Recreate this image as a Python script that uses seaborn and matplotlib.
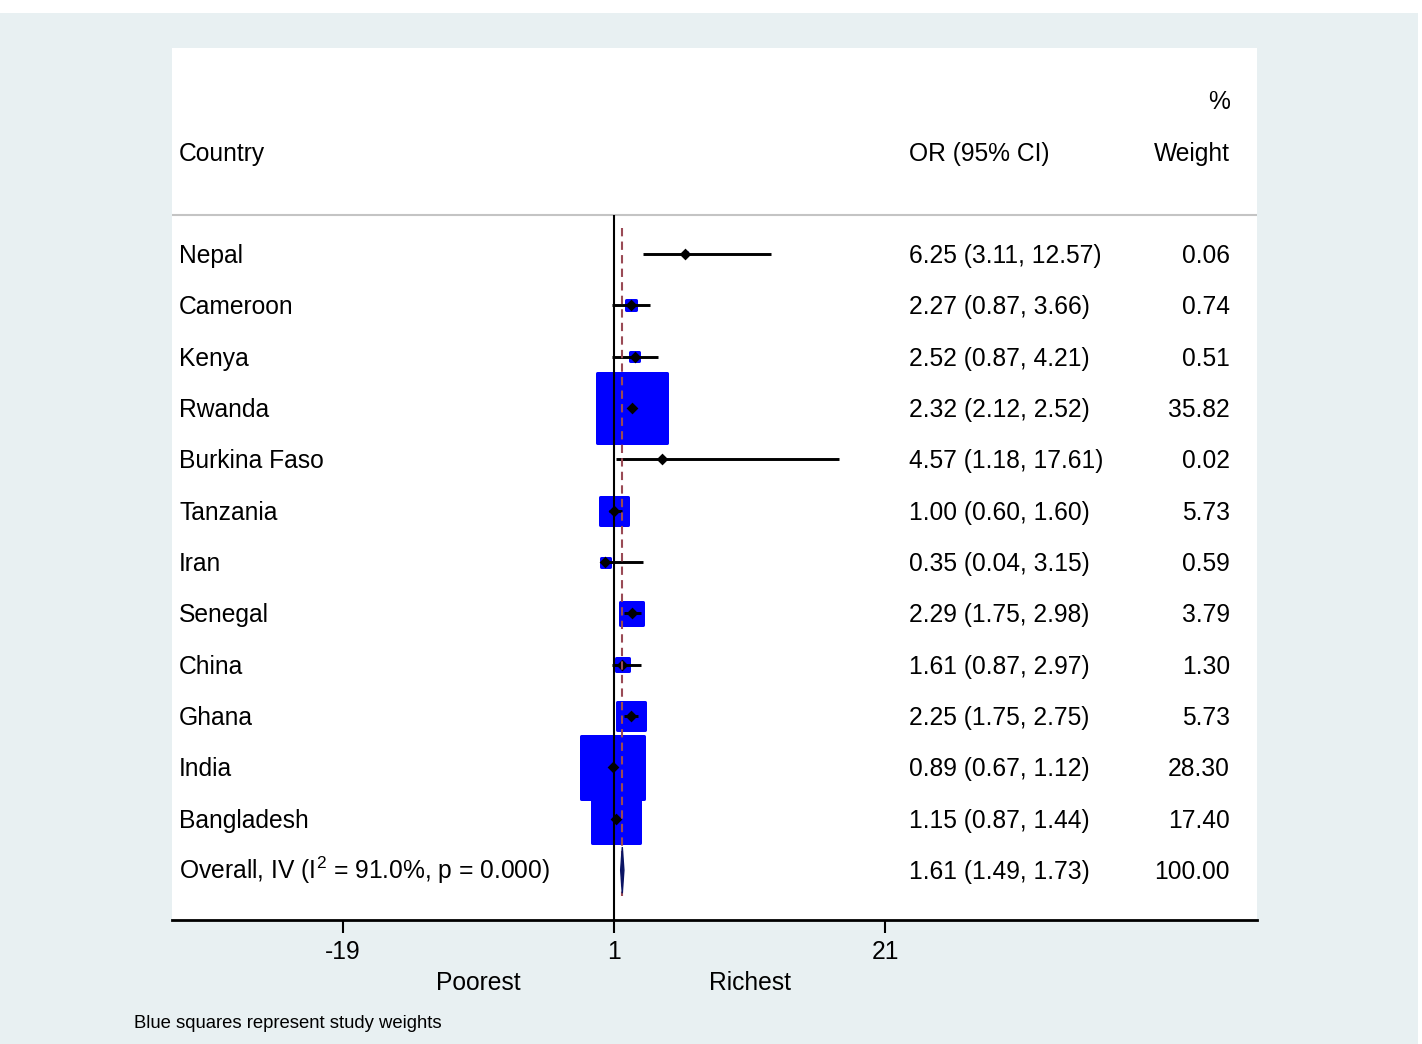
import numpy as np
import pandas as pd
import matplotlib
matplotlib.use('Agg')
import matplotlib.pyplot as plt
import seaborn as sns
from matplotlib.patches import Rectangle

sns.set_style('white')
plt.rcParams['font.family'] = ['Liberation Sans', 'DejaVu Sans']
plt.rcParams['mathtext.fontset'] = 'custom'
plt.rcParams['mathtext.rm'] = 'Liberation Sans'
plt.rcParams['mathtext.it'] = 'Liberation Sans:italic'
plt.rcParams['text.color'] = 'black'
plt.rcParams['xtick.color'] = 'black'
plt.rcParams['axes.labelcolor'] = 'black'

# study data
countries = ['Nepal', 'Cameroon', 'Kenya', 'Rwanda', 'Burkina Faso', 'Tanzania',
             'Iran', 'Senegal', 'China', 'Ghana', 'India', 'Bangladesh']
or_vals = [6.25, 2.27, 2.52, 2.32, 4.57, 1.00, 0.35, 2.29, 1.61, 2.25, 0.89, 1.15]
ci_low = [3.11, 0.87, 0.87, 2.12, 1.18, 0.60, 0.04, 1.75, 0.87, 1.75, 0.67, 0.87]
ci_high = [12.57, 3.66, 4.21, 2.52, 17.61, 1.60, 3.15, 2.98, 2.97, 2.75, 1.12, 1.44]
weights = [0.06, 0.74, 0.51, 35.82, 0.02, 5.73, 0.59, 3.79, 1.30, 5.73, 28.30, 17.40]

overall_label = 'Overall, IV (I$^{\\mathregular{2}}$ = 91.0%, p = 0.000)'
overall_or, overall_low, overall_high, overall_weight = 1.61, 1.49, 1.73, 100.00

tick_vals = [-19, 1, 21]
side_labels = ['Poorest', 'Richest']

df = pd.DataFrame({'country': countries, 'or_': or_vals, 'lo': ci_low,
                   'hi': ci_high, 'weight': weights})
df['row'] = np.arange(len(df))
overall_row = len(df)

fontsize = 17.7
blue = '#0000ff'

fig = plt.figure(figsize=(14.22, 10.44), dpi=100, facecolor='white')
fig.add_artist(Rectangle((0, 0), 1418 / 1422, 1 - 13 / 1044, transform=fig.transFigure,
                         facecolor='#e8f0f2', edgecolor='none', zorder=-10))
ax = fig.add_axes([172 / 1422, 1 - 920 / 1044, 1085 / 1422, 872 / 1044])
ax.set_facecolor('white')

# boxes: area proportional to weight
sns.scatterplot(data=df, x='or_', y='row', size='weight', sizes=(0, 70.97 * 35.82),
                size_norm=(0, 35.82), marker='s', color=blue, edgecolor=blue,
                linewidth=2.16, legend=False, ax=ax, zorder=2)
ax.hlines(df['row'], df['lo'], df['hi'], color='black', lw=2.1, zorder=3)
sns.scatterplot(data=df, x='or_', y='row', marker='D', color='black', s=36,
                linewidth=0, legend=False, ax=ax, zorder=4)

header_y = -0.76
ax.axhline(header_y, color='#c4c4c4', lw=1.5, zorder=1)
ax.vlines(1, header_y, 12.97, color='black', lw=1.5, zorder=5)
ax.vlines(overall_or, -0.5, 12.5, color='#9a4a55', lw=1.5,
          linestyles=(0, (4, 2.5)), zorder=5)
ax.fill([overall_low, overall_or, overall_high, overall_or],
        [overall_row, overall_row - 0.45, overall_row, overall_row + 0.45],
        color='#0a1464', zorder=6)

ax.set_xlim(-31.62, 48.45)
ax.set_ylim(12.97, -4.01)

# text columns
x_name, x_or, x_w = -31.1, 22.77, 46.46
off = 0.175
ax.text(x_name, -1.81, 'Country', fontsize=fontsize, va='baseline')
ax.text(x_or, -1.81, 'OR (95% CI)', fontsize=fontsize, va='baseline')
ax.text(x_w, -1.81, 'Weight', fontsize=fontsize, va='baseline', ha='right')
ax.text(x_w, -2.82, '%', fontsize=fontsize, va='baseline', ha='right')
for _, r in df.iterrows():
    ax.text(x_name, r['row'] + off, r['country'], fontsize=fontsize, va='baseline')
    ax.text(x_or, r['row'] + off, f"{r['or_']:.2f} ({r['lo']:.2f}, {r['hi']:.2f})",
            fontsize=fontsize, va='baseline')
    ax.text(x_w, r['row'] + off, f"{r['weight']:.2f}", fontsize=fontsize,
            va='baseline', ha='right')
ax.text(x_name, overall_row + off, overall_label, fontsize=fontsize, va='baseline')
ax.text(x_or, overall_row + off, f"{overall_or:.2f} ({overall_low:.2f}, {overall_high:.2f})",
        fontsize=fontsize, va='baseline')
ax.text(x_w, overall_row + off, f"{overall_weight:.2f}", fontsize=fontsize,
        va='baseline', ha='right')

# axis
for s in ['top', 'left', 'right']:
    ax.spines[s].set_visible(False)
ax.spines['bottom'].set_linewidth(2.0)
ax.spines['bottom'].set_color('black')
ax.set_yticks([])
ax.set_xticks(tick_vals)
ax.set_xticklabels([str(t) for t in tick_vals], fontsize=fontsize)
ax.tick_params(axis='x', bottom=True, length=9.4, width=1.5, pad=5,
               direction='out', color='black', labelcolor='black')
ax.set_xlabel('')
ax.set_ylabel('')

for i, lab in enumerate(side_labels):
    mid = (tick_vals[i] + tick_vals[i + 1]) / 2
    ax.text(mid, 14.34, lab, fontsize=fontsize, ha='center', va='baseline', clip_on=False)

fig.text(134 / 1422, 1 - 1028 / 1044, 'Blue squares represent study weights',
         fontsize=13.3, va='baseline')

fig.savefig('out.png', dpi=100, facecolor=fig.get_facecolor())
